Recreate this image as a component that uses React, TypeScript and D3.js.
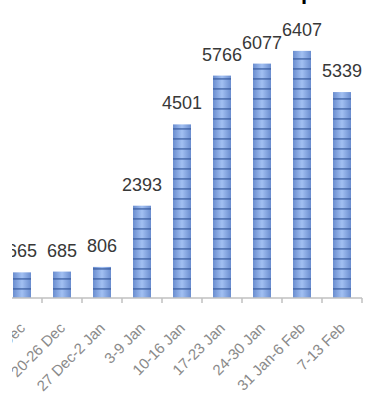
import React from "react";
import * as d3 from "d3";

const categories = [
  "13-19 Dec",
  "20-26 Dec",
  "27 Dec-2 Jan",
  "3-9 Jan",
  "10-16 Jan",
  "17-23 Jan",
  "24-30 Jan",
  "31 Jan-6 Feb",
  "7-13 Feb",
];
const values = [665, 685, 806, 2393, 4501, 5766, 6077, 6407, 5339];
const yDomain = [0, 7000];

const W = 368;
const H = 405;

export default function App() {
  const x = d3.scaleBand<string>().domain(categories).range([2, 362]).padding(0);
  const y = d3.scaleLinear().domain(yDomain).range([298, 28]);
  const barW = 18;
  const base = y(0);
  const ticks = d3.range(categories.length + 1).map((i) => 2 + i * x.step());

  return (
    <svg
      width={W}
      height={H}
      style={{ position: "absolute", left: 0, top: 0, background: "#fff" }}
      fontFamily="'Liberation Sans', Arial, sans-serif"
    >
      <defs>
        <clipPath id="plotClip">
          <rect x={12} y={-20} width={W} height={H + 40} />
        </clipPath>
        <linearGradient id="barGrad" x1="0" x2="1" y1="0" y2="0">
          <stop offset="0" stopColor="#6a8dcf" />
          <stop offset="0.5" stopColor="#a2c0f2" />
          <stop offset="1" stopColor="#6a8dcf" />
        </linearGradient>
        <pattern id="stripes" width={10} height={10} patternUnits="userSpaceOnUse" y={base}>
          <rect x={0} y={0} width={10} height={1.8} fill="#34589c" opacity={0.65} />
        </pattern>
      </defs>
      <text x={301} y={-1} fontSize={22} fontWeight="bold" fill="#000">
        p
      </text>
      <g clipPath="url(#plotClip)">
        {categories.map((c, i) => {
          const cx = (x(c) as number) + x.bandwidth() / 2;
          const top = y(values[i]);
          return (
            <g key={c}>
              <rect x={cx - barW / 2} y={top} width={barW} height={base - top} fill="url(#barGrad)" />
              <rect x={cx - barW / 2} y={top} width={barW} height={base - top} fill="url(#stripes)" />
              <text
                x={cx}
                y={top - 15}
                textAnchor="middle"
                fontSize={18}
                fill="#383838"
              >
                {values[i]}
              </text>
              <text
                transform={`translate(${cx + 4},${base + 31}) rotate(-45)`}
                textAnchor="end"
                fontSize={15}
                fill="#8a8a8a"
              >
                {c}
              </text>
            </g>
          );
        })}
        <line x1={2} x2={362} y1={base} y2={base} stroke="#c0c0c0" strokeWidth={1.5} />
        {ticks.map((t, i) => (
          <line key={i} x1={t} x2={t} y1={base} y2={base + 5} stroke="#c0c0c0" strokeWidth={1.5} />
        ))}
      </g>
    </svg>
  );
}
